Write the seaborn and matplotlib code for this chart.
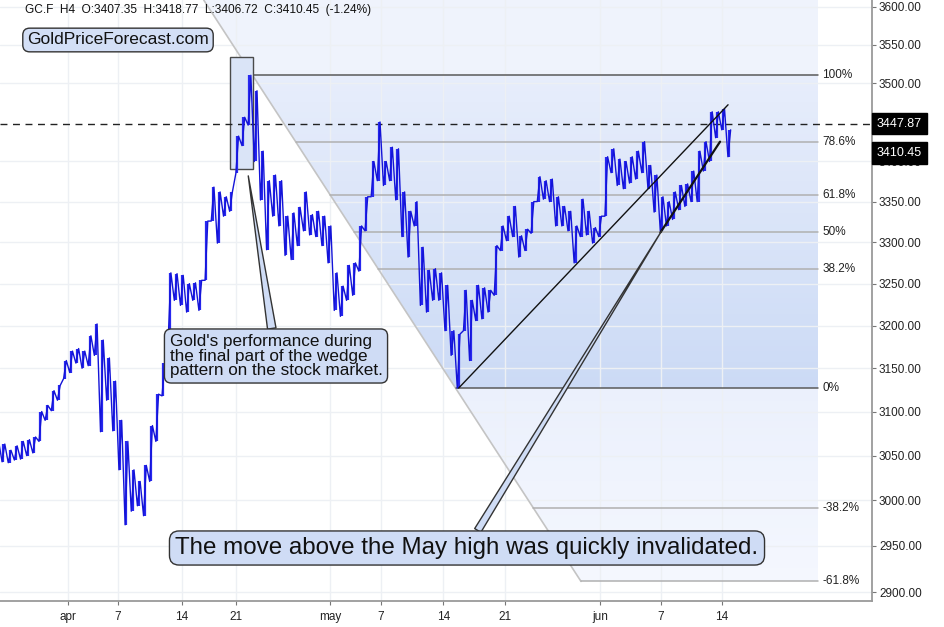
import numpy as np
import pandas as pd
import matplotlib
matplotlib.use("Agg")
import matplotlib.pyplot as plt
from matplotlib.patches import Rectangle
import seaborn as sns

sns.set_theme(style="white")
plt.rcParams['font.family'] = ['Liberation Sans', 'DejaVu Sans']

# ============================
# Datos: GC.F velas H4 agrupadas en medias sesiones (max / min)
# ============================
highs = [3066, 3063, 3056, 3061, 3066, 3068, 3071, 3100, 3107, 3124,
         3130, 3159, 3170, 3173, 3170, 3188, 3202, 3183, 3162, 3135,
         3090, 3066, 3034, 3021, 3039, 3084, 3120, 3156, 3263, 3262,
         3260, 3250, 3251, 3254, 3326, 3368, 3362, 3356, 3362, 3432,
         3456, 3510, 3490, 3413, 3376, 3383, 3376, 3332, 3336, 3343,
         3362, 3334, 3338, 3332, 3320, 3263, 3247, 3272, 3275, 3320,
         3356, 3400, 3450, 3400, 3418, 3416, 3362, 3338, 3350, 3294,
         3266, 3268, 3263, 3248, 3194, 3190, 3242, 3230, 3248, 3245,
         3242, 3296, 3320, 3332, 3344, 3308, 3316, 3350, 3381, 3376,
         3378, 3356, 3344, 3338, 3320, 3353, 3338, 3318, 3332, 3406,
         3416, 3403, 3400, 3406, 3413, 3425, 3395, 3383, 3356, 3350,
         3362, 3370, 3372, 3388, 3413, 3425, 3463, 3463, 3467, 3440]
lows = [3050, 3043, 3042, 3045, 3046, 3050, 3053, 3066, 3090, 3101,
        3113, 3138, 3145, 3156, 3150, 3153, 3165, 3077, 3113, 3078,
        3034, 2973, 2988, 2994, 2983, 3021, 3066, 3118, 3183, 3230,
        3224, 3216, 3230, 3218, 3254, 3326, 3299, 3332, 3338, 3385,
        3420, 3446, 3400, 3352, 3291, 3332, 3320, 3284, 3279, 3296,
        3314, 3309, 3307, 3296, 3275, 3218, 3211, 3230, 3236, 3265,
        3314, 3356, 3376, 3370, 3376, 3352, 3307, 3282, 3320, 3224,
        3216, 3230, 3230, 3194, 3165, 3127, 3194, 3159, 3206, 3208,
        3216, 3236, 3290, 3302, 3307, 3282, 3290, 3311, 3350, 3353,
        3350, 3320, 3320, 3314, 3275, 3307, 3309, 3299, 3307, 3332,
        3386, 3370, 3366, 3373, 3378, 3386, 3366, 3337, 3314, 3320,
        3328, 3340, 3344, 3350, 3350, 3388, 3400, 3430, 3440, 3406]

tick_pos = [11.5, 19.6, 30.0, 38.8, 54.1, 62.4, 72.5, 82.5, 98.0, 107.9, 117.8]
tick_labels = ['apr', '7', '14', '21', 'may', '7', '14', '21', 'jun', '7', '14']
price_ticks = [2900, 2950, 3000, 3050, 3100, 3150, 3200, 3250, 3300, 3350,
               3400, 3500, 3550, 3600]

# Fibonacci (dibujado entre el maximo de abril y el minimo de mayo)
fib_levels = [1.0, 0.786, 0.618, 0.5, 0.382, 0.0, -0.382, -0.618]
fib_labels = ['100%', '78.6%', '61.8%', '50%', '38.2%', '0%', '-38.2%', '-61.8%']
fib_high, fib_low = 3510, 3127
fib_x_high, fib_x_low = 41.5, 74.5
fib_x_end = 133.4

may_high = 3447.87
last_close = 3410.45
titulo = "GC.F  H4  O:3407.35  H:3418.77  L:3406.72  C:3410.45  (-1.24%)"

# lineas de tendencia (barra, precio)
trend_a = ([75, 118.8], [3127, 3472])
trend_b = ([107.8, 117.5], [3312, 3425])

df = pd.DataFrame({'bar': np.arange(len(highs)), 'high': highs, 'low': lows})

# ============================
# Figura
# ============================
fig = plt.figure(figsize=(9.45, 6.27), dpi=100)
ax = fig.add_axes([0, 1 - 601 / 627, 872 / 945, 601 / 627])
ax.set_yscale('log')
y_bot, y_top = 2890.5, 3609
ax.set_xlim(0.44, 142.2)
ax.set_ylim(y_bot, y_top)

lh, ll = np.log(fib_high), np.log(fib_low)


def fib_price(f):
    return np.exp(ll + f * (lh - ll))


def diag_x(p):
    return fib_x_high + (lh - np.log(p)) / (lh - ll) * (fib_x_low - fib_x_high)


# sombreado del fibonacci
def fib_color(f):
    if f > 1:
        c = np.array([239, 243, 252])
    elif f >= 0:
        c = np.array([203, 218, 245]) + f * (np.array([231, 237, 251]) - np.array([203, 218, 245]))
    else:
        t = f / -0.618
        c = np.array([235, 240, 252]) + t * (np.array([244, 247, 254]) - np.array([235, 240, 252]))
    return c / 255


f_top = np.log(y_top / fib_low) / (lh - ll)
edges = np.concatenate([np.linspace(f_top, 1.0, 6), np.linspace(1.0, 0.0, 60)[1:],
                        np.linspace(0.0, -0.618, 30)[1:]])
for fa, fb in zip(edges[:-1], edges[1:]):
    pa, pb = fib_price(fa), fib_price(fb)
    ax.fill([diag_x(pa), fib_x_end, fib_x_end, diag_x(pb)], [pa, pa, pb, pb],
            color=fib_color((fa + fb) / 2), lw=0, zorder=1)

# rejilla
for xp in tick_pos:
    ax.axvline(xp, color='#edf0f4', lw=1, zorder=1.5)
for yp in price_ticks:
    ax.axhline(yp, color='#edf0f4', lw=1, zorder=1.5)

# diagonal y niveles
p_end = fib_price(-0.618)
ax.plot([diag_x(y_top), diag_x(p_end)], [y_top, p_end], color='#c4c4c4', lw=1.2, zorder=2)
for f, lab in zip(fib_levels, fib_labels):
    p = fib_price(f)
    col = '#5a5a5a' if f in (1.0, 0.0) else '#b0b0b0'
    ax.plot([diag_x(p), fib_x_end], [p, p], color=col, lw=1.1, zorder=2)
    ax.text(fib_x_end + 0.7, p, lab, fontsize=8.5, va='center', ha='left', color='#222', zorder=6)

# rectangulo del maximo de abril
ax.add_patch(Rectangle((37.8, 3391), 3.8, 3534 - 3391, facecolor='#dae4f7', edgecolor='#4a4a4a',
                       lw=1, zorder=2.2))

# linea discontinua del maximo de mayo
ax.axhline(may_high, color='#222', lw=1, ls=(0, (5, 4)), zorder=2.5)

# precio: barras H4 (trazo vertical + recorrido min -> max de cada media sesion)
ax.vlines(df.bar, df.low, df.high, color='#2828f0', lw=1.6, zorder=3)
path_x = np.column_stack([df.bar - 0.22, df.bar + 0.22]).ravel()
path_y = np.column_stack([df.low, df.high]).ravel()
sns.lineplot(x=path_x, y=path_y, sort=False, estimator=None, color='#1414d8', lw=1.0,
             ax=ax, zorder=3.1)

# lineas de tendencia
ax.plot(trend_a[0], trend_a[1], color='#111', lw=1, zorder=4)
ax.plot(trend_b[0], trend_b[1], color='#111', lw=1.6, zorder=4)

# ejes
ax.yaxis.tick_right()
ax.set_yticks(price_ticks)
ax.set_yticklabels([f"{p:.2f}" for p in price_ticks])
ax.yaxis.set_minor_locator(matplotlib.ticker.NullLocator())
ax.set_xticks(tick_pos)
ax.set_xticklabels(tick_labels)
for s in ['left', 'top']:
    ax.spines[s].set_visible(False)
for s in ['right', 'bottom']:
    ax.spines[s].set_color('#9a9a9a')
    ax.spines[s].set_linewidth(1.3)
ax.tick_params(axis='both', direction='out', length=3, width=0.8, color='#777',
               labelsize=8.5, labelcolor='#222', pad=2)
ax.tick_params(axis='y', right=True, left=False)
ax.tick_params(axis='x', bottom=True, pad=4)
ax.set_xlabel('')
ax.set_ylabel('')

# etiquetas de precio a la derecha
for val in [may_high, last_close]:
    ax.annotate(f"{val:.2f}", xy=(1.0, val), xycoords=('axes fraction', 'data'),
                xytext=(3.5, 0), textcoords='offset points', ha='left', va='center',
                fontsize=9, color='white', annotation_clip=False, zorder=7,
                bbox=dict(boxstyle='square,pad=0.38', fc='black', ec='black'))

# textos
ax.text(25 / 872, 1 - 10 / 601, titulo, transform=ax.transAxes, fontsize=8.55,
        ha='left', va='center', color='#111')
ax.text(118 / 872, 1 - 40 / 601, "GoldPriceForecast.com", transform=ax.transAxes,
        fontsize=12.5, ha='center', va='center', color='#111', zorder=7,
        bbox=dict(boxstyle='round,pad=0.25,rounding_size=0.4', fc='#d3dff6', ec='#333', lw=1))

ax.annotate("Gold's performance during\nthe final part of the wedge\npattern on the stock market.",
            xy=(40.8, 3382), xycoords='data',
            xytext=(276 / 872, 1 - 356 / 601), textcoords='axes fraction',
            fontsize=12.3, ha='center', va='center', multialignment='left', color='#111',
            linespacing=0.95, zorder=7,
            bbox=dict(boxstyle='round,pad=0.3,rounding_size=0.4', fc='#cfdcf5', ec='#333', lw=1),
            arrowprops=dict(arrowstyle='wedge,tail_width=0.5,shrink_factor=0.5',
                            fc='#cfdcf5', ec='#333', lw=1, shrinkA=0, shrinkB=0))
ax.annotate("The move above the May high was quickly invalidated.",
            xy=(108.0, 3314), xycoords='data',
            xytext=(467 / 872, 1 - 548 / 601), textcoords='axes fraction',
            fontsize=17.4, ha='center', va='center', color='#111', zorder=7,
            bbox=dict(boxstyle='round,pad=0.25,rounding_size=0.4', fc='#cfdcf5', ec='#333', lw=1),
            arrowprops=dict(arrowstyle='wedge,tail_width=0.3,shrink_factor=0.5',
                            fc='#cfdcf5', ec='#333', lw=1, shrinkA=0, shrinkB=0))

fig.savefig("out.png", dpi=100)
